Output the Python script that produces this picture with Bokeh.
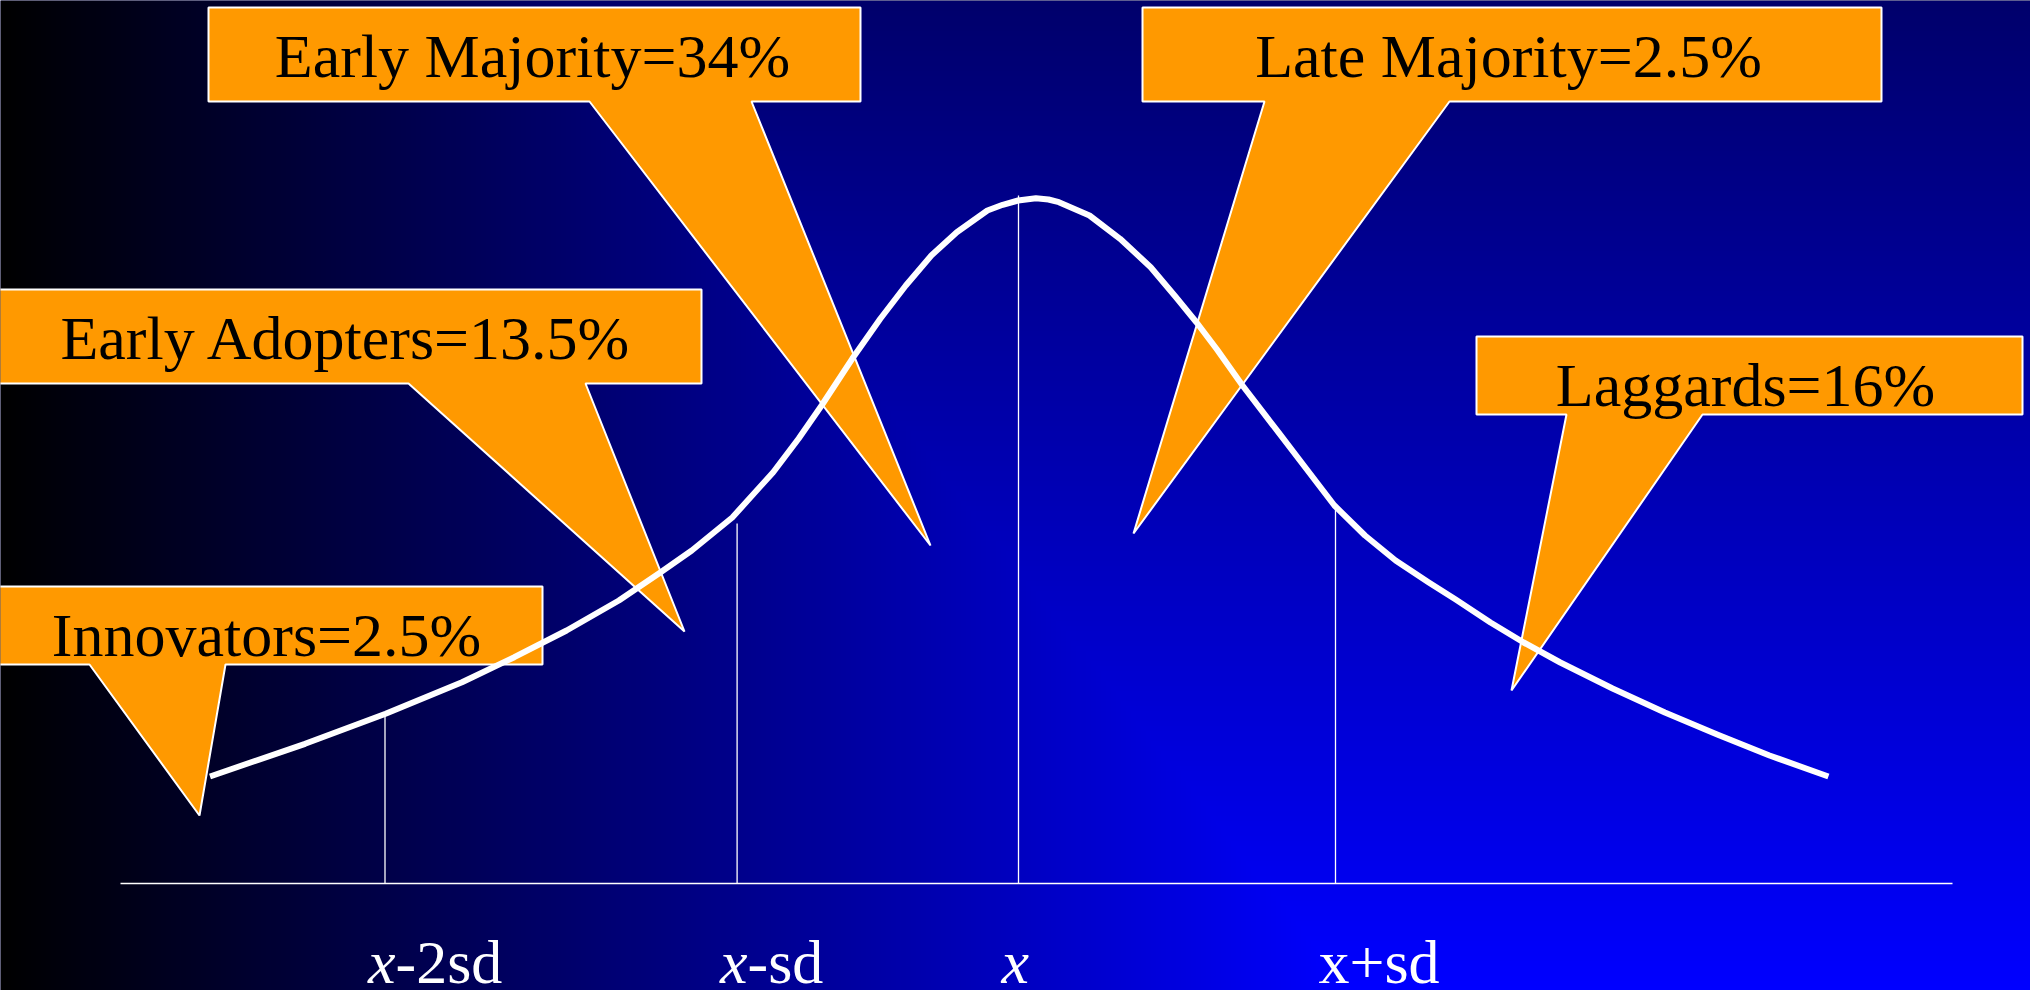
import numpy as np
from bokeh.plotting import figure
from bokeh.models import Range1d, ColumnDataSource
from bokeh.core.properties import value
from bokeh.embed import file_html
from bokeh.resources import INLINE

# ---------------- data ----------------
# adoption curve: x position and picture row of the curve
curve_x = [209.5, 304.6, 385.1, 461.5, 513.8, 566.1, 618.4, 660.2, 691.3, 731.8,
           772.7, 798.2, 821.1, 851.7, 879.8, 905.3, 930.8, 956.3, 986.9, 1002.2,
           1017.6, 1035.4, 1048.0, 1058.4, 1089.0, 1119.6, 1150.2, 1175.7, 1196.1, 1216.5,
           1242.0, 1277.8, 1303.3, 1333.9, 1364.5, 1395.1, 1428.3, 1455.2, 1490.0, 1523.2,
           1559.8, 1612.1, 1664.4, 1716.7, 1769.0, 1827.9]
curve_row = [776, 743.3, 713.3, 681.7, 656.7, 630, 600, 571.7, 550, 517,
             471.7, 438, 405, 358.3, 318.3, 285, 255, 231.7, 210, 204.3,
             200, 197.7, 199, 201.7, 215, 238.3, 266.7, 297, 322, 349,
             385, 431.7, 465, 505, 535, 560, 582, 599, 622, 642,
             662, 688, 712, 734, 755, 776]

# standard-deviation markers
sd_x = [384.5, 736.6, 1018.0, 1335.0]
sd_top_row = [713, 523, 195, 508]
sd_label_italic = ["x", "x", "x", ""]
sd_label_rest = ["-2sd", "-sd", "", "x+sd"]

# adopter categories
categories = ["Innovators", "Early Adopters", "Early Majority", "Late Majority", "Laggards"]
shares = ["2.5%", "13.5%", "34%", "2.5%", "16%"]

# ---------------- layout (callout geometry, in picture pixels) ----------------
BASE = 883  # picture row of the baseline
W, H = 2030, 990
callouts = {
    "Innovators":     dict(box=(-20, 586, 542, 664),   base=(89, 225),    tip=(199, 815),  text=(266, 657)),
    "Early Adopters": dict(box=(-20, 289, 701, 383),   base=(408, 585),   tip=(684, 631),  text=(346, 360)),
    "Early Majority": dict(box=(208, 7, 860, 101),     base=(589, 751),   tip=(930, 545),  text=(532, 78)),
    "Late Majority":  dict(box=(1142, 7, 1881, 101),   base=(1264, 1449), tip=(1133, 533), text=(1508, 78)),
    "Laggards":       dict(box=(1476, 336, 2022, 414), base=(1566, 1702), tip=(1511, 690), text=(1745, 407)),
}
axis_start, axis_end = 120, 1952
label_row = 984
label_offset = -17
italic_x_width = 27.5
text_shift = 23          # compensate baseline placement of the renderer
FONT = value("Liberation Serif")

# heights above the baseline
curve_y = [BASE - r for r in curve_row]
sd_top = [BASE - r for r in sd_top_row]

p = figure(width=W, height=H,
           x_range=Range1d(0, W), y_range=Range1d(BASE - H, BASE),
           output_backend="svg", toolbar_location=None, min_border=0)
p.axis.visible = False
p.grid.visible = False
p.outline_line_color = None
p.background_fill_color = "#000040"
p.border_fill_color = "#000040"

# background gradient (dark top-left -> bright blue bottom-right)
nx, ny = 406, 198
px = (np.arange(nx) + 0.5) * W / nx
py = H - (np.arange(ny) + 0.5) * H / ny
blue = np.minimum(np.clip(px / 1350.0, 0, 1)[None, :], (0.42 + 0.58 * py / H)[:, None])
rgba = np.zeros((ny, nx, 4), dtype=np.uint8)
rgba[..., 2] = np.round(blue * 255).astype(np.uint8)
rgba[..., 3] = 255
img = rgba.view(np.uint32).reshape(ny, nx)
p.image_rgba(image=[img], x=0, y=BASE - H, dw=W, dh=H)

# baseline and sd markers
p.segment(x0=[axis_start], y0=[0], x1=[axis_end], y1=[0], line_color="white", line_width=1.5)
p.segment(x0=sd_x, y0=[0] * len(sd_x), x1=sd_x, y1=sd_top, line_color="white", line_width=1.3)

# callouts
xs, ys, tx, ty, tt = [], [], [], [], []
for cat, share in zip(categories, shares):
    c = callouts[cat]
    L, T, R, B = c["box"]
    bl, br = c["base"]
    tipx, tipy = c["tip"]
    xs.append([L, R, R, br, tipx, bl, L])
    ys.append([BASE - T, BASE - T, BASE - B, BASE - B, BASE - tipy, BASE - B, BASE - B])
    tx.append(c["text"][0])
    ty.append(BASE - c["text"][1])
    tt.append(f"{cat}={share}")
p.patches(xs, ys, fill_color="#FF9900", line_color="white", line_width=2)

# curve on top
p.line(curve_x, curve_y, line_color="white", line_width=6, line_cap="butt", line_join="round")

# callout texts
p.text(x=tx, y=ty, text=tt, y_offset=-text_shift, text_font=FONT, text_font_size="62px",
       text_align="center", text_baseline="alphabetic", text_color="black")

# sd labels
lab_y = BASE - label_row
it_x, it_t, rest_x, rest_t, rest_off = [], [], [], [], []
for xv, it, rest in zip(sd_x, sd_label_italic, sd_label_rest):
    if it:
        it_x.append(xv)
        it_t.append(it)
    if rest:
        rest_x.append(xv)
        rest_t.append(rest)
        rest_off.append(label_offset + (italic_x_width if it else 0))
p.text(x=it_x, y=[lab_y] * len(it_x), text=it_t, x_offset=label_offset, y_offset=-text_shift,
       text_font=FONT, text_font_style="italic", text_font_size="62px", text_align="left",
       text_baseline="alphabetic", text_color="white")
src = ColumnDataSource(dict(x=rest_x, y=[lab_y] * len(rest_x), t=rest_t, off=rest_off))
p.text(x="x", y="y", text="t", x_offset="off", y_offset=-text_shift, source=src, text_font=FONT,
       text_font_size="62px", text_align="left", text_baseline="alphabetic", text_color="white")

open("out.html", "w").write(file_html(p, INLINE))
